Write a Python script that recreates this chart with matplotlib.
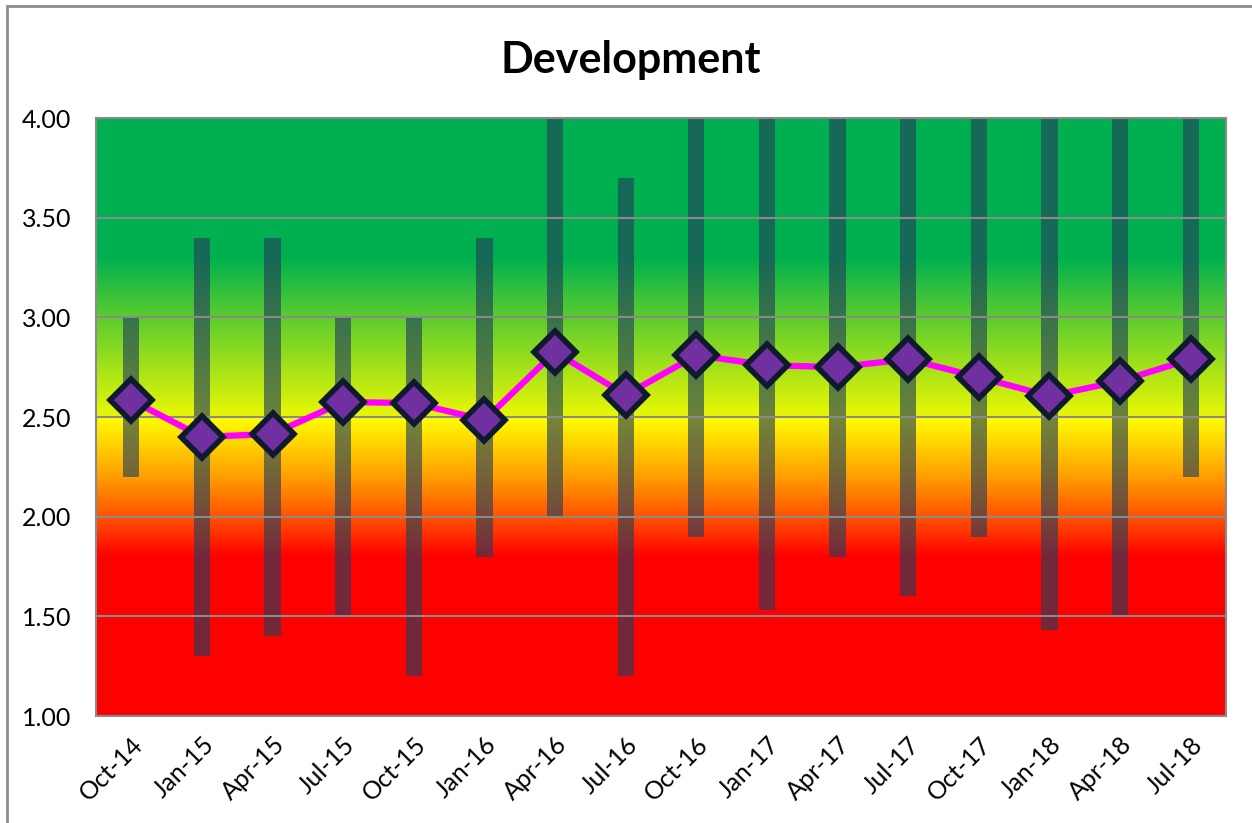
import matplotlib
matplotlib.use('Agg')
import matplotlib.pyplot as plt
import numpy as np
from matplotlib.colors import LinearSegmentedColormap
from matplotlib.patches import Rectangle

plt.rcParams['font.family'] = ['Lato', 'DejaVu Sans']

# data
quarters = ['Oct-14', 'Jan-15', 'Apr-15', 'Jul-15', 'Oct-15', 'Jan-16', 'Apr-16', 'Jul-16',
            'Oct-16', 'Jan-17', 'Apr-17', 'Jul-17', 'Oct-17', 'Jan-18', 'Apr-18', 'Jul-18']
range_low = [2.2, 1.3, 1.4, 1.5, 1.2, 1.8, 2.0, 1.2, 1.9, 1.53, 1.8, 1.6, 1.9, 1.43, 1.5, 2.2]
range_high = [3.0, 3.4, 3.4, 3.0, 3.0, 3.4, 4.0, 3.7, 4.0, 4.0, 4.0, 4.0, 4.0, 4.0, 4.0, 4.0]
average = [2.585, 2.40, 2.415, 2.575, 2.57, 2.485, 2.826, 2.61,
           2.81, 2.76, 2.75, 2.79, 2.70, 2.605, 2.68, 2.79]

fig = plt.figure(figsize=(12.52, 8.23), dpi=100)
ax = fig.add_axes([96/1252, 1 - 716/823, 1130/1252, 598/823])

# background gradient: red -> orange -> yellow | yellow-green -> green
ymin, ymax = 1.0, 4.0
def pos(v):
    return (v - ymin) / (ymax - ymin)
stops = [
    (pos(1.0), (1.0, 0.0, 0.0)),
    (pos(1.8), (1.0, 0.0, 0.0)),
    (pos(1.95), (1.0, 0.25, 0.0)),
    (pos(2.2), (1.0, 0.62, 0.0)),
    (pos(2.499), (1.0, 1.0, 0.0)),
    (pos(2.501), (0.92, 0.97, 0.02)),
    (pos(3.0), (0.36, 0.80, 0.18)),
    (pos(3.3), (0.0, 0.69, 0.31)),
    (pos(4.0), (0.0, 0.69, 0.31)),
]
cmap = LinearSegmentedColormap.from_list('bands', stops, N=1024)
grad = np.linspace(ymin, ymax, 1200).reshape(-1, 1)
ax.imshow(grad, cmap=cmap, vmin=ymin, vmax=ymax, origin='lower', aspect='auto',
          extent=[-0.5, len(quarters) - 0.5, ymin, ymax], zorder=0)

x = np.arange(len(quarters))
ax.set_xlim(-0.5, len(quarters) - 0.5)
ax.set_ylim(ymin, ymax)

ax.set_yticks(np.arange(1.0, 4.01, 0.5))
ax.set_yticklabels([f'{v:.2f}' for v in np.arange(1.0, 4.01, 0.5)])
ax.yaxis.grid(True, color='#8A8A8A', linewidth=1.5, zorder=1)
ax.set_axisbelow(False)

# min-max range bars
ax.bar(x, np.array(range_high) - np.array(range_low), bottom=range_low, width=0.23,
       color='#24405C', alpha=0.64, zorder=2)

# average line
ax.plot(x, average, color='#FF00FF', linewidth=4.5, zorder=3)
ax.plot(x, average, linestyle='none', marker='D', markersize=21, markerfacecolor='#7030A0',
        markeredgecolor='#0F1A2E', markeredgewidth=4, zorder=4)

ax.set_xticks(x)
ax.set_xticklabels(quarters, rotation=45, ha='right', rotation_mode='anchor')
ax.tick_params(axis='both', length=0, labelsize=18, colors='black')
ax.tick_params(axis='x', pad=12)
ax.tick_params(axis='y', pad=18)
for s in ax.spines.values():
    s.set_color('#8A8A8A')
    s.set_linewidth(1.5)

fig.text(631/1252, 1 - 60/823, 'Development', ha='center', va='center',
         fontsize=31, fontweight='bold')

# chart-area frame
fig.patches.append(Rectangle((7/1252, -0.1), 1.2, 1 - 6/823 + 0.1, transform=fig.transFigure,
                             fill=False, edgecolor='#8C8C8C', linewidth=2))

fig.savefig('out.png', dpi=100)
